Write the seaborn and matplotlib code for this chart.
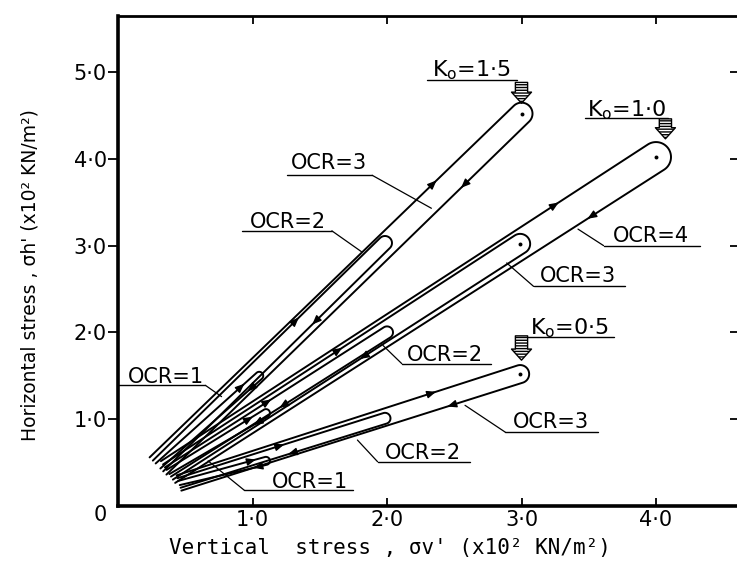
import numpy as np
import pandas as pd
import matplotlib
matplotlib.use("Agg")
import matplotlib.pyplot as plt
import seaborn as sns

# ---------------- data ----------------
k0_group = ["1.5", "1.5", "1.5", "1.0", "1.0", "1.0", "1.0", "0.5", "0.5", "0.5"]
ocr = [1, 2, 3, 1, 2, 3, 4, 1, 2, 3]
# peak (end of loading / start of unloading) of each stress path
peak_x = [1.05, 1.985, 3.00, 1.10, 2.00, 2.99, 4.00, 1.10, 1.985, 2.99]
peak_y = [1.50, 3.03, 4.52, 1.07, 2.00, 3.02, 4.02, 0.52, 1.01, 1.52]
# start of loading branch
load_x = [0.280, 0.259, 0.235, 0.361, 0.349, 0.335, 0.319, 0.448, 0.442, 0.436]
load_y = [0.490, 0.523, 0.560, 0.416, 0.445, 0.479, 0.517, 0.289, 0.320, 0.353]
# end of unloading branch
unload_x = [0.315, 0.336, 0.360, 0.382, 0.394, 0.408, 0.425, 0.459, 0.465, 0.471]
unload_y = [0.432, 0.399, 0.362, 0.368, 0.339, 0.304, 0.266, 0.241, 0.210, 0.177]

x_ticks = [1.0, 2.0, 3.0, 4.0]
x_ticklabels = ["1·0", "2·0", "3·0", "4·0"]
y_ticks = [1.0, 2.0, 3.0, 4.0, 5.0]
y_ticklabels = ["1·0", "2·0", "3·0", "4·0", "5·0"]

# OCR labels: text centre, underline span, leader end
ocr_lab_text = ["OCR=3", "OCR=2", "OCR=1", "OCR=4", "OCR=3", "OCR=2", "OCR=3", "OCR=2", "OCR=1"]
ocr_lab_x = [1.57, 1.26, 0.36, 3.96, 3.42, 2.43, 3.22, 2.27, 1.43]
ocr_lab_y = [3.95, 3.27, 1.49, 3.11, 2.65, 1.74, 0.97, 0.61, 0.28]
ul_x0 = [1.26, 0.92, 0.00, 3.61, 3.09, 2.11, 2.88, 1.93, 0.94]
ul_x1 = [1.89, 1.59, 0.65, 4.33, 3.77, 2.77, 3.57, 2.62, 1.75]
ul_y = [3.81, 3.17, 1.39, 3.00, 2.53, 1.64, 0.85, 0.51, 0.18]
lead_x = [2.33, 1.81, 0.77, 3.42, 2.89, 1.97, 2.58, 1.78, 0.67]
lead_y = [3.43, 2.93, 1.26, 3.19, 2.80, 1.85, 1.16, 0.76, 0.52]
lead_from_right = [True, True, True, False, False, False, False, False, False]

# K0 labels
k0_text = ["1·5", "1·0", "0·5"]
k0_lab_x = [2.63, 3.78, 3.36]
k0_lab_y = [5.02, 4.56, 2.05]
k0_ul_x0 = [2.30, 3.47, 3.04]
k0_ul_x1 = [2.97, 4.09, 3.69]
k0_ul_y = [4.91, 4.47, 1.95]
k0_arrow_x = [3.00, 4.07, 3.00]
k0_arrow_y0 = [4.88, 4.46, 1.96]
k0_arrow_y1 = [4.64, 4.23, 1.68]

# ---------------- style ----------------
half_width_px = [4, 7, 11, 4, 6, 10, 15, 4, 5.5, 9]
arrow_frac = [0.85, 0.63, 0.78, 0.85, 0.47, 0.50, 0.81, 0.85, 0.50, 0.75]

sns.set_theme(style="white")
plt.rcParams["font.family"] = ["DejaVu Sans"]
plt.rcParams["mathtext.fontset"] = "dejavusans"
for key in ["text.color", "axes.labelcolor", "xtick.color", "ytick.color", "axes.edgecolor"]:
    plt.rcParams[key] = "black"

fig = plt.figure(figsize=(7.37, 5.63), dpi=100)
ax = fig.add_axes([118 / 737, 1 - 506 / 563, (740 - 118) / 737, (506 - 16) / 563])
ax.set_xlim(0, (740 - 118) / 134.5)
ax.set_ylim(0, (506 - 16) / 86.8)
fig.canvas.draw()

T = ax.transData
Ti = T.inverted()

loop_rows = []
arrow_segs = []
for i in range(len(ocr)):
    a = T.transform((load_x[i], load_y[i]))
    b = T.transform((unload_x[i], unload_y[i]))
    p = T.transform((peak_x[i], peak_y[i]))
    m = (a + b) / 2
    d = p - m
    d = d / np.hypot(*d)
    n = np.array([-d[1], d[0]])
    hw = half_width_px[i]
    th0 = np.arctan2(n[1], n[0])
    t = np.linspace(th0, th0 - np.pi, 40)
    arc = p + hw * np.column_stack([np.cos(t), np.sin(t)])
    pts = np.vstack([a, arc, b])
    dat = Ti.transform(pts)
    for k, (xx, yy) in enumerate(dat):
        loop_rows.append({"loop": i, "order": k, "x": xx, "y": yy})
    pu = p + n * hw
    pl = p - n * hw
    f = arrow_frac[i]
    v = pu - a
    pos = a + f * v
    u = v / np.hypot(*v)
    arrow_segs.append((Ti.transform(pos - u * 4), Ti.transform(pos + u * 4)))
    v2 = b - pl
    pos2 = b - (f + 0.04) * v2
    u2 = v2 / np.hypot(*v2)
    arrow_segs.append((Ti.transform(pos2 - u2 * 4), Ti.transform(pos2 + u2 * 4)))

loops = pd.DataFrame(loop_rows)
sns.lineplot(data=loops, x="x", y="y", units="loop", estimator=None, sort=False,
             color="black", lw=1.4, ax=ax, legend=False)

peaks = pd.DataFrame({"x": peak_x, "y": peak_y, "ocr": ocr, "k0": k0_group})
big = peaks[peaks["ocr"] >= 3]
sns.scatterplot(data=big, x="x", y="y", color="black", s=8, linewidth=0, ax=ax, legend=False)

for s, e in arrow_segs:
    ax.annotate("", xy=e, xytext=s,
                arrowprops=dict(arrowstyle="-|>,head_length=0.6,head_width=0.25",
                                color="black", lw=1.0, shrinkA=0, shrinkB=0,
                                mutation_scale=9))

# OCR labels with underline and leader lines
for i, txt in enumerate(ocr_lab_text):
    ax.text(ocr_lab_x[i], ocr_lab_y[i], txt, ha="center", va="center", fontsize=15)
    ax.plot([ul_x0[i], ul_x1[i]], [ul_y[i], ul_y[i]], color="black", lw=1.0, clip_on=False)
    sx = ul_x1[i] if lead_from_right[i] else ul_x0[i]
    ax.plot([sx, lead_x[i]], [ul_y[i], lead_y[i]], color="black", lw=0.9)

# K0 labels with hatched arrows
for i, txt in enumerate(k0_text):
    ax.text(k0_lab_x[i], k0_lab_y[i], r"K$_{\mathregular{o}}$=" + txt,
            ha="center", va="center", fontsize=16)
    ax.plot([k0_ul_x0[i], k0_ul_x1[i]], [k0_ul_y[i], k0_ul_y[i]], color="black", lw=1.0)
    ax.annotate("", xy=(k0_arrow_x[i], k0_arrow_y1[i]), xytext=(k0_arrow_x[i], k0_arrow_y0[i]),
                arrowprops=dict(arrowstyle="simple,head_length=0.5,head_width=0.9,tail_width=0.55",
                                fc="white", ec="black", lw=1.0, hatch="------",
                                shrinkA=0, shrinkB=0, mutation_scale=16))

# axes styling
ax.set_xticks(x_ticks)
ax.set_xticklabels(x_ticklabels, fontsize=15)
ax.set_yticks(y_ticks)
ax.set_yticklabels(y_ticklabels, fontsize=15)
ax.tick_params(axis="x", direction="in", length=6, width=1.3, top=True, bottom=True, pad=3)
ax.tick_params(axis="y", which="both", left=True, right=True, width=1.3)
ax.yaxis.set_tick_params(which="major", direction="out", length=7, left=True, pad=1)
for t in ax.yaxis.get_major_ticks():
    t.tick2line.set_marker(matplotlib.lines.TICKLEFT)
    t.tick2line.set_markersize(7)
ax.text(-0.13, -0.1, "0", ha="center", va="center", fontsize=15)

for side in ["left", "bottom"]:
    ax.spines[side].set_linewidth(2.6)
ax.spines["top"].set_linewidth(2.0)
ax.spines["right"].set_visible(False)

ax.set_xlabel("Vertical  stress , σv' (x10² KN/m²)", fontsize=15,
              family=["DejaVu Sans Mono", "DejaVu Sans"])
ax.set_ylabel("Horizontal stress , σh' (x10² KN/m²)", fontsize=13.5)
ax.xaxis.label.set_va("center")
ax.yaxis.label.set_va("center")
ax.xaxis.set_label_coords((390 - 118) / 622, -(548 - 506) / 490)
ax.yaxis.set_label_coords(-(118 - 30) / 622, (506 - 275) / 490)

fig.savefig("out.png", dpi=100)
